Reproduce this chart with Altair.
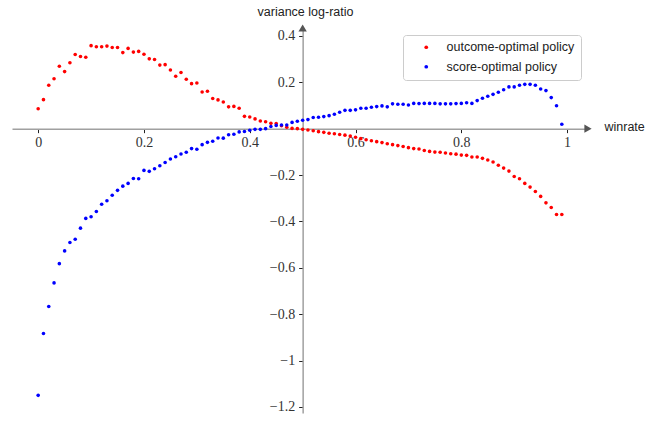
import altair as alt
import pandas as pd

winrate = [0.00, 0.01, 0.02, 0.03, 0.04, 0.05, 0.06, 0.07, 0.08, 0.09,
           0.10, 0.11, 0.12, 0.13, 0.14, 0.15, 0.16, 0.17, 0.18, 0.19,
           0.20, 0.21, 0.22, 0.23, 0.24, 0.25, 0.26, 0.27, 0.28, 0.29,
           0.30, 0.31, 0.32, 0.33, 0.34, 0.35, 0.36, 0.37, 0.38, 0.39,
           0.40, 0.41, 0.42, 0.43, 0.44, 0.45, 0.46, 0.47, 0.48, 0.49,
           0.50, 0.51, 0.52, 0.53, 0.54, 0.55, 0.56, 0.57, 0.58, 0.59,
           0.60, 0.61, 0.62, 0.63, 0.64, 0.65, 0.66, 0.67, 0.68, 0.69,
           0.70, 0.71, 0.72, 0.73, 0.74, 0.75, 0.76, 0.77, 0.78, 0.79,
           0.80, 0.81, 0.82, 0.83, 0.84, 0.85, 0.86, 0.87, 0.88, 0.89,
           0.90, 0.91, 0.92, 0.93, 0.94, 0.95, 0.96, 0.97, 0.98, 0.99]

outcome_optimal = [0.086, 0.125, 0.187, 0.215, 0.269, 0.246, 0.284, 0.320, 0.311, 0.308,
                   0.358, 0.353, 0.353, 0.356, 0.350, 0.350, 0.328, 0.346, 0.330, 0.333,
                   0.321, 0.301, 0.298, 0.274, 0.276, 0.253, 0.226, 0.242, 0.213, 0.194,
                   0.197, 0.158, 0.161, 0.130, 0.124, 0.115, 0.094, 0.096, 0.088, 0.053,
                   0.050, 0.042, 0.033, 0.030, 0.023, 0.022, 0.013, 0.006, 0.001, 0.000,
                   -0.003, -0.006, -0.009, -0.013, -0.016, -0.020, -0.022, -0.025, -0.028, -0.032,
                   -0.037, -0.043, -0.048, -0.052, -0.056, -0.060, -0.065, -0.069, -0.073, -0.077,
                   -0.082, -0.086, -0.088, -0.094, -0.098, -0.101, -0.102, -0.105, -0.108, -0.110,
                   -0.114, -0.115, -0.122, -0.122, -0.128, -0.135, -0.144, -0.158, -0.170, -0.183,
                   -0.206, -0.216, -0.236, -0.252, -0.271, -0.292, -0.320, -0.340, -0.370, -0.370]

score_optimal = [-1.150, -0.883, -0.767, -0.665, -0.582, -0.527, -0.491, -0.477, -0.429, -0.387,
                 -0.380, -0.357, -0.326, -0.311, -0.287, -0.266, -0.248, -0.236, -0.215, -0.216,
                 -0.180, -0.184, -0.173, -0.160, -0.146, -0.131, -0.121, -0.109, -0.102, -0.086,
                 -0.089, -0.069, -0.059, -0.054, -0.040, -0.041, -0.026, -0.024, -0.014, -0.012,
                 -0.007, -0.003, -0.003, 0.000, 0.009, 0.014, 0.016, 0.016, 0.027, 0.032,
                 0.036, 0.039, 0.048, 0.049, 0.052, 0.056, 0.062, 0.071, 0.079, 0.079,
                 0.081, 0.088, 0.088, 0.092, 0.095, 0.098, 0.094, 0.107, 0.105, 0.105,
                 0.102, 0.109, 0.108, 0.109, 0.109, 0.109, 0.107, 0.107, 0.107, 0.108,
                 0.109, 0.112, 0.109, 0.121, 0.131, 0.140, 0.148, 0.157, 0.168, 0.180,
                 0.180, 0.187, 0.191, 0.191, 0.187, 0.171, 0.164, 0.134, 0.099, 0.019]

series_names = ["outcome-optimal policy", "score-optimal policy"]
series_colors = ["#ff0000", "#0000ff"]
x_tick_values = [0, 0.2, 0.4, 0.6, 0.8, 1]
y_tick_values = [0.4, 0.2, -0.2, -0.4, -0.6, -0.8, -1, -1.2]
x_title = "winrate"
y_title = "variance log-ratio"

df = pd.DataFrame({
    "winrate": winrate + winrate,
    "value": outcome_optimal + score_optimal,
    "series": [series_names[0]] * len(winrate) + [series_names[1]] * len(winrate),
})

X_DOM = [-0.0495, 1.0395]
Y_DOM = [-1.226, 0.434]
W, H = 576, 385
PAD_L, PAD_T = 12, 28

x_axis_y = H * (Y_DOM[1] - 0) / (Y_DOM[1] - Y_DOM[0])
y_axis_x = W * (0.5 - X_DOM[0]) / (X_DOM[1] - X_DOM[0])

xscale = alt.Scale(domain=X_DOM, nice=False, zero=False)
yscale = alt.Scale(domain=Y_DOM, nice=False, zero=False)

x_axis = alt.Axis(
    values=x_tick_values, format="~g", offset=x_axis_y - H, grid=False,
    domainColor="#a0a0a0", domainWidth=1.5, tickColor="#222222", tickSize=4, tickWidth=1,
    labelFont="Liberation Serif", labelFontSize=14, labelColor="#333333", labelPadding=3,
    labelOverlap=False, labelFlush=False,
    title=x_title, titleAngle=0, titleX=592, titleY=131 - PAD_T - x_axis_y,
    titleAlign="left", titleBaseline="alphabetic", titleFont="Liberation Sans",
    titleFontSize=12.5, titleFontWeight="normal", titleColor="#222222",
)
y_axis = alt.Axis(
    values=y_tick_values, format="~g", offset=-y_axis_x, grid=False,
    domainColor="#a0a0a0", domainWidth=1.5, tickColor="#222222", tickSize=4, tickWidth=1,
    labelFont="Liberation Serif", labelFontSize=14, labelColor="#333333", labelPadding=4,
    labelOverlap=False, labelFlush=False,
    title=y_title, titleAngle=0, titleX=293 - PAD_L - y_axis_x + 12, titleY=15 - PAD_T,
    titleAlign="center", titleBaseline="alphabetic", titleFont="Liberation Sans",
    titleFontSize=12.5, titleFontWeight="normal", titleColor="#222222",
)

points = alt.Chart(df).mark_circle(size=13, opacity=1).encode(
    x=alt.X("winrate:Q", scale=xscale, axis=x_axis),
    y=alt.Y("value:Q", scale=yscale, axis=y_axis),
    color=alt.Color(
        "series:N",
        scale=alt.Scale(domain=series_names, range=series_colors),
        legend=alt.Legend(
            title=None, orient="none", legendX=391, legendY=7,
            fillColor="white", strokeColor="#cccccc", cornerRadius=3, padding=6,
            symbolType="circle", symbolSize=14, symbolOffset=11, labelOffset=14,
            labelFont="Liberation Sans", labelFontSize=12.5, labelColor="#222222",
            rowPadding=6.5,
        ),
    ),
)

one_row = alt.Data(values=[{}])
arrow_x = alt.Chart(one_row).mark_point(
    shape="triangle-right", filled=True, size=70, color="#555555", opacity=1
).encode(x=alt.datum(X_DOM[1]), y=alt.datum(0))
arrow_y = alt.Chart(one_row).mark_point(
    shape="triangle-up", filled=True, size=70, color="#555555", opacity=1
).encode(x=alt.datum(0.5), y=alt.datum(Y_DOM[1]))

chart = alt.layer(points, arrow_x, arrow_y).properties(
    width=W, height=H, autosize="none",
    padding={"left": PAD_L, "top": PAD_T, "right": 664 - PAD_L - W, "bottom": 422 - PAD_T - H},
    background="white",
).configure_view(stroke=None)

chart.save("out.html", embed_options={"renderer": "svg", "actions": False})
